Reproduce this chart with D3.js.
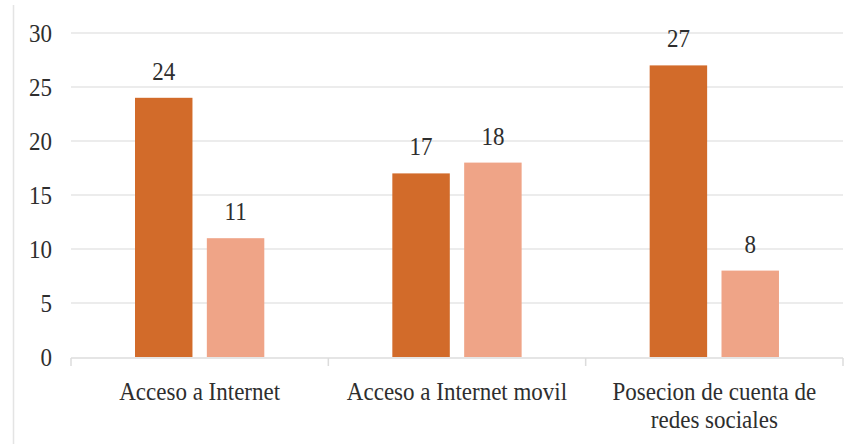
<!DOCTYPE html>
<html><head><meta charset="utf-8">
<script src="https://cdn.jsdelivr.net/npm/d3@7"></script>
<style>body{margin:0;background:#fff}svg{display:block}svg text{font-family:'Liberation Serif','Times New Roman',serif}</style>
</head><body>
<svg id="c" width="859" height="444"></svg>
<script>
const categories = [["Acceso a Internet"], ["Acceso a Internet movil"], ["Posecion de cuenta de", "redes sociales"]];
const seriesNames = ["Serie 1", "Serie 2"];
const series1 = [24, 17, 27];
const series2 = [11, 18, 8];
const yTicks = [0, 5, 10, 15, 20, 25, 30];
const colors = ["#d26b2a", "#efa487"];

(function() {
const svg = d3.select("#c");
const fs = 25, sx = 0.92, txtColor = "#2e2e2e";
const mLeft = 71, mRight = 843, mTop = 33, mBottom = 357;
const place = (x, y) => `translate(${x},${y}) scale(${sx},1)`;

svg.append("line").attr("x1", 13.5).attr("x2", 13.5).attr("y1", 5).attr("y2", 444)
  .attr("stroke", "#e4e4e4").attr("stroke-width", 1.5);

const x0 = d3.scaleBand().domain(d3.range(categories.length)).range([mLeft, mRight]).padding(0);
const x1 = d3.scaleBand().domain(seriesNames).range([64, 64 + 129.3]).paddingInner(0.2).paddingOuter(0);
const y = d3.scaleLinear().domain([0, 30]).range([mBottom, mTop]);

svg.append("g").selectAll("line").data(yTicks.filter(t => t > 0)).join("line")
  .attr("x1", mLeft).attr("x2", mRight)
  .attr("y1", d => y(d)).attr("y2", d => y(d))
  .attr("stroke", "#e6e6e6").attr("stroke-width", 1.5);

svg.append("g").selectAll("text").data(yTicks).join("text")
  .attr("transform", d => place(52, y(d) + 8.5))
  .attr("text-anchor", "end").attr("font-size", fs)
  .attr("fill", txtColor).text(d => d);

const data = categories.map((c, i) => ({i, vals: [series1[i], series2[i]]}));

const g = svg.append("g").selectAll("g").data(data).join("g")
  .attr("transform", d => `translate(${x0(d.i)},0)`);

g.selectAll("rect").data(d => d.vals.map((v, k) => ({k, v}))).join("rect")
  .attr("x", d => x1(seriesNames[d.k])).attr("width", x1.bandwidth())
  .attr("y", d => y(d.v)).attr("height", d => y(0) - y(d.v))
  .attr("fill", d => colors[d.k]);

g.selectAll("text.v").data(d => d.vals.map((v, k) => ({k, v}))).join("text")
  .attr("class", "v")
  .attr("transform", d => place(x1(seriesNames[d.k]) + x1.bandwidth() / 2, y(d.v) - 18))
  .attr("text-anchor", "middle").attr("font-size", fs)
  .attr("fill", txtColor).text(d => d.v);

svg.append("line").attr("x1", mLeft).attr("x2", mRight).attr("y1", mBottom + 1).attr("y2", mBottom + 1)
  .attr("stroke", "#dcdcdc").attr("stroke-width", 1.5);
const tickXs = d3.range(categories.length + 1).map(i => i < categories.length ? x0(i) : mRight);
svg.append("g").selectAll("line").data(tickXs).join("line")
  .attr("x1", d => d).attr("x2", d => d).attr("y1", mBottom + 1).attr("y2", mBottom + 9)
  .attr("stroke", "#dcdcdc").attr("stroke-width", 1.5);

const lab = svg.append("g").selectAll("text").data(categories).join("text")
  .attr("transform", (d, i) => place(x0(i) + x0.bandwidth() / 2, 400))
  .attr("text-anchor", "middle").attr("font-size", fs)
  .attr("fill", txtColor);
lab.selectAll("tspan").data(d => d).join("tspan")
  .attr("x", 0)
  .attr("dy", (d, j) => j === 0 ? 0 : 28)
  .text(d => d);
})();
</script>
</body></html>
